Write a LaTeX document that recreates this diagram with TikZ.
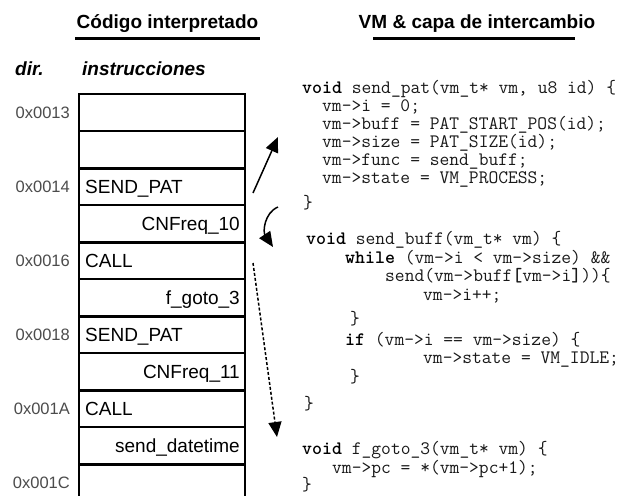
\documentclass[tikz,border=0pt]{standalone}
\usepackage{fontspec}
\setmainfont{Liberation Sans}
\usetikzlibrary{arrows.meta}

\begin{document}
\begin{tikzpicture}[x=1pt,y=-1pt,
  addr/.style={anchor=base east, inner sep=0pt, text=black!70, font=\fontsize{16.5}{18}\selectfont},
  instr/.style={anchor=base west, inner sep=0pt, font=\fontsize{19}{21}\selectfont},
  operand/.style={anchor=base east, inner sep=0pt, font=\fontsize{19}{21}\selectfont},
  code/.style={anchor=base west, inner sep=0pt, text=black!90, font=\ttfamily\fontsize{19}{21}\selectfont},
  title/.style={anchor=base, inner sep=0pt, font=\bfseries\fontsize{19}{22}\selectfont},
  colhead/.style={anchor=base west, inner sep=0pt, font=\bfseries\itshape\fontsize{19}{22}\selectfont},
  thinrule/.style={line width=1.4pt},
  thickrule/.style={line width=3pt},
  link/.style={line width=1.5pt, -{Triangle[length=15pt,width=13pt]}},
]
\useasboundingbox[fill=white] (0,0) rectangle (641,496);

% titles
\node[title] (t1) at (167.5,28) {Código interpretado};
\node[title] (t2) at (477,28) {VM \& capa de intercambio};
\draw[line width=3pt] (75,38) -- (260,38);
\draw[line width=3pt] (373,38) -- (575,38);

% column headings
\node[colhead] (hdir) at (15,75) {dir.};
\node[colhead] (hins) at (82,75) {instrucciones};

% memory table: row separators
\foreach \k in {0,1,3,5,7,9} \draw[thinrule] (79,{94+37*\k}) -- (245,{94+37*\k});
\foreach \k in {2,4,6,8,10} \draw[thickrule] (79,{94+37*\k}) -- (245,{94+37*\k});
\draw[line width=2.7pt] (79,93) -- (79,496);
\draw[line width=2.7pt] (245,93) -- (245,496);

% addresses
\node[addr] (d13) at (70,{118.5+37*0}) {0x0013};
\node[addr] (d14) at (70,{118.5+37*2}) {0x0014};
\node[addr] (d16) at (70,{118.5+37*4}) {0x0016};
\node[addr] (d18) at (70,{118.5+37*6}) {0x0018};
\node[addr] (d1A) at (70,{118.5+37*8}) {0x001A};
\node[addr] (d1C) at (70,{118.5+37*10}) {0x001C};

% instructions and operands
\node[instr]   (r2) at (85,{119.5+37*2}) {SEND\_PAT};
\node[operand] (r3) at (240,{119.5+37*3}) {CNFreq\_10};
\node[instr]   (r4) at (85,{119.5+37*4}) {CALL};
\node[operand] (r5) at (240,{119.5+37*5}) {f\_goto\_3};
\node[instr]   (r6) at (85,{119.5+37*6}) {SEND\_PAT};
\node[operand] (r7) at (240,{119.5+37*7}) {CNFreq\_11};
\node[instr]   (r8) at (85,{119.5+37*8}) {CALL};
\node[operand] (r9) at (240,{119.5+37*9}) {send\_datetime};

% virtual machine code
\node[code] (c1)  at (302,93)  {\textbf{\textcolor{black}{void}} send\_pat(vm\_t* vm, u8 id) \{};
\node[code] (c2)  at (322,111) {vm->i = 0;};
\node[code] (c3)  at (322,129) {vm->buff = PAT\_START\_POS(id);};
\node[code] (c4)  at (322,147) {vm->size = PAT\_SIZE(id);};
\node[code] (c5)  at (322,165) {vm->func = send\_buff;};
\node[code] (c6)  at (322,183) {vm->state = VM\_PROCESS;};
\node[code] (c7)  at (303,208) {\}};
\node[code] (c8)  at (306,244) {\textbf{\textcolor{black}{void}} send\_buff(vm\_t* vm) \{};
\node[code] (c9)  at (345,263) {\textbf{\textcolor{black}{while}} (vm->i < vm->size) \&\&};
\node[code] (c10) at (385,281) {send(vm->buff\textbf{[}vm->i\textbf{]}))\{};
\node[code] (c11) at (423,300) {vm->i++;};
\node[code] (c12) at (350,324) {\}};
\node[code] (c13) at (345,345) {\textbf{\textcolor{black}{if}} (vm->i == vm->size) \{};
\node[code] (c14) at (423,363) {vm->state = VM\_IDLE;};
\node[code] (c15) at (350,382) {\}};
\node[code] (c16) at (304,409) {\}};
\node[code] (c17) at (302,454) {\textbf{\textcolor{black}{void}} f\_goto\_3(vm\_t* vm) \{};
\node[code] (c18) at (332,473) {vm->pc = *(vm->pc+1);};
\node[code] (c19) at (302,490) {\}};

% control-flow arrows
\coordinate (a1s) at (253,193);
\coordinate (a1e) at (278,137);
\draw[link] (a1s) -- (a1e);
\coordinate (a2s) at (278,207);
\coordinate (a2e) at (273,247);
\draw[link] (a2s) .. controls (264,213) and (263,232) .. (a2e);
\coordinate (a3s) at (253,263);
\coordinate (a3e) at (277,437);
\draw[link, dash pattern=on 3pt off 2pt] (a3s) -- (a3e);
\end{tikzpicture}
\end{document}
